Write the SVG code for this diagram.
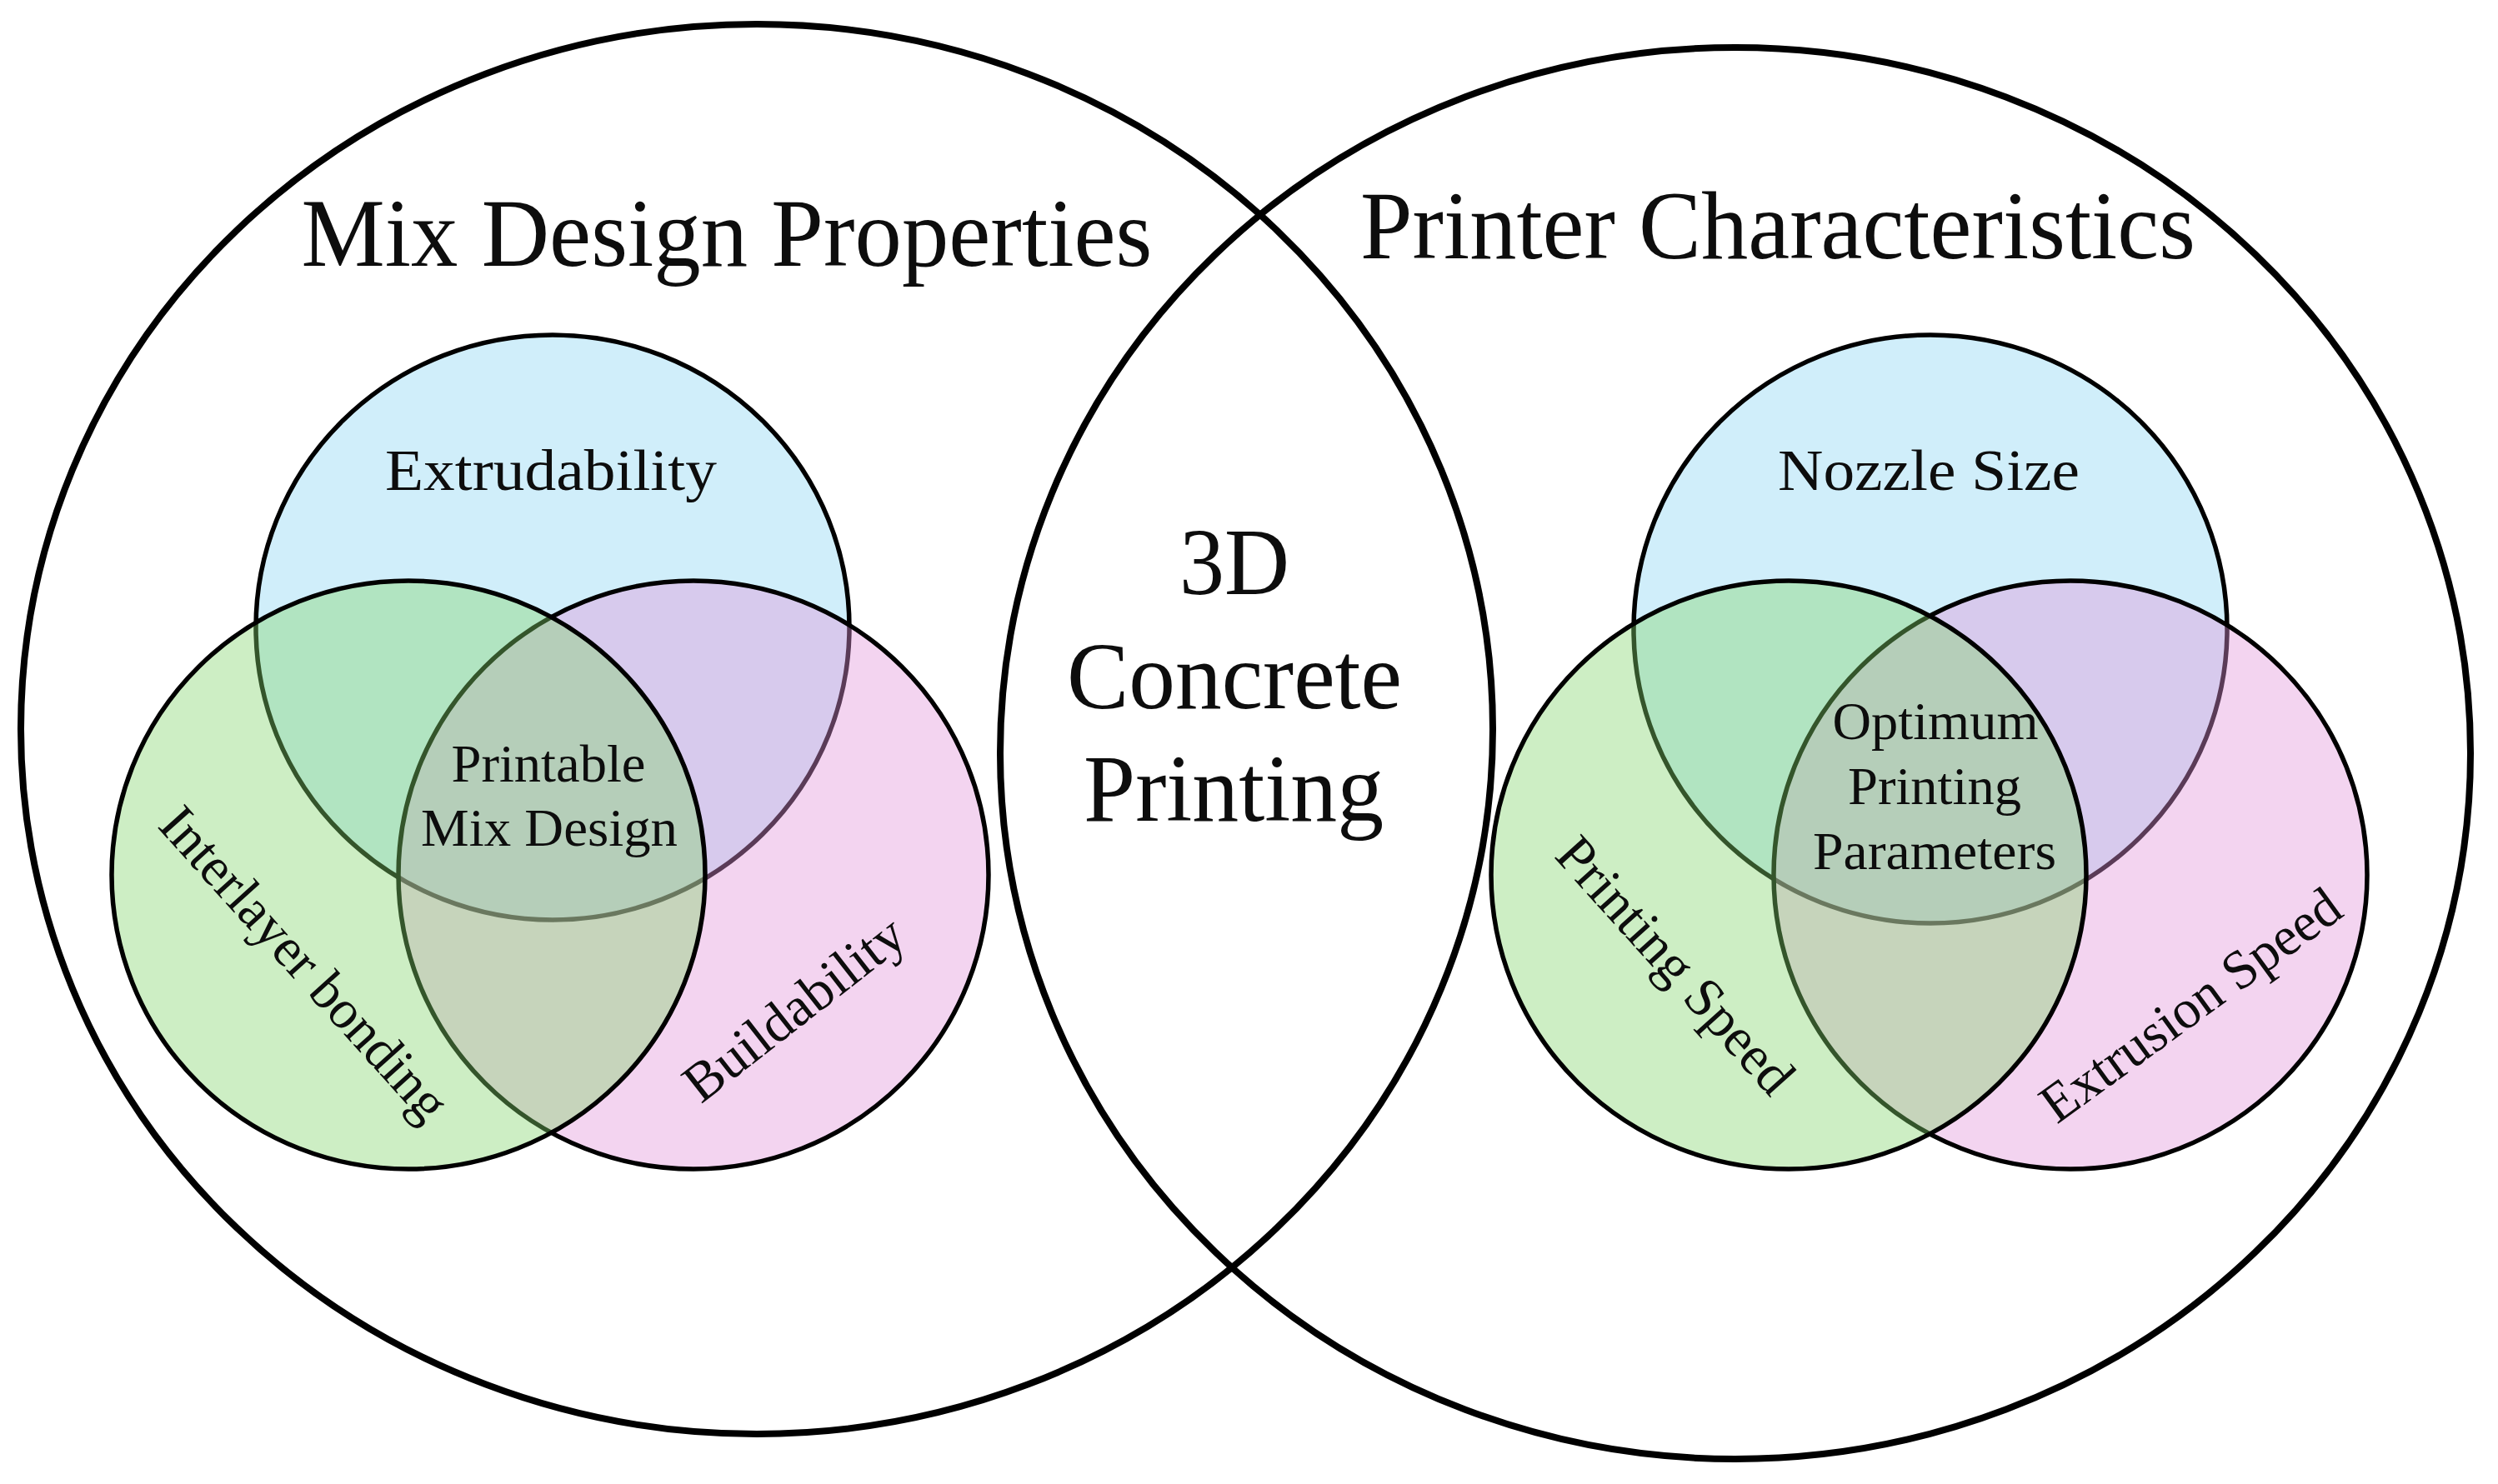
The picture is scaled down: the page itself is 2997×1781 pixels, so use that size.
<svg xmlns="http://www.w3.org/2000/svg" width="2997" height="1781" viewBox="0 0 2997 1781">
<style>
.big{fill:none;stroke:#000;stroke-width:8}
.blue{fill:#d0eefa;stroke:#000;stroke-width:5.5}
.pink{fill:rgb(225,148,218);fill-opacity:0.4;stroke:#000;stroke-width:5.5}
.green{fill:rgb(130,212,108);fill-opacity:0.4;stroke:#000;stroke-width:5.5}
text{font-family:"Liberation Serif","Times New Roman",serif;fill:#0d0d0d;text-anchor:middle}
.title{font-size:116px}
.mid{font-size:115px}
.lab{font-size:70px}
.sm{font-size:64px}
.rot{font-size:66px}
</style>
<rect width="2997" height="1781" fill="#fff"/>
<g id="mix-design-properties">
<ellipse class="big" cx="908" cy="875" rx="883" ry="846"/>
<text class="title" x="872" y="319" textLength="1021" lengthAdjust="spacingAndGlyphs">Mix Design Properties</text>
</g>
<g id="printer-characteristics">
<ellipse class="big" cx="2082" cy="904" rx="882" ry="847"/>
<text class="title" x="2133" y="310" textLength="1002" lengthAdjust="spacingAndGlyphs">Printer Characteristics</text>
</g>
<g id="concrete-printing">
<text class="mid" x="1481" y="713" textLength="132" lengthAdjust="spacingAndGlyphs">3D</text>
<text class="mid" x="1481" y="850" textLength="402" lengthAdjust="spacingAndGlyphs">Concrete</text>
<text class="mid" x="1480" y="985" textLength="360" lengthAdjust="spacingAndGlyphs">Printing</text>
</g>
<g id="extrudability">
<ellipse class="blue" cx="663" cy="753" rx="356" ry="351"/>
</g>
<g id="buildability">
<ellipse class="pink" cx="832" cy="1050" rx="354" ry="353"/>
</g>
<g id="interlayer-bonding">
<ellipse class="green" cx="490" cy="1050" rx="356" ry="353"/>
</g>
<g id="nozzle-size">
<ellipse class="blue" cx="2316" cy="755" rx="356" ry="353"/>
</g>
<g id="extrusion-speed">
<ellipse class="pink" cx="2484" cy="1050" rx="356" ry="353"/>
</g>
<g id="printing-speed">
<ellipse class="green" cx="2146" cy="1050" rx="357" ry="353"/>
</g>
<g id="labels-left">
<text class="lab" x="661" y="588" textLength="398" lengthAdjust="spacingAndGlyphs">Extrudability</text>
<text class="rot" transform="translate(349 1171) rotate(48)" textLength="482" lengthAdjust="spacingAndGlyphs">Interlayer bonding</text>
<text class="rot" transform="translate(966 1228) rotate(-38)" textLength="317" lengthAdjust="spacingAndGlyphs">Buildability</text>
</g>
<g id="printable-mix-design">
<text class="sm" x="658" y="938" textLength="233" lengthAdjust="spacingAndGlyphs">Printable</text>
<text class="sm" x="659" y="1015" textLength="308" lengthAdjust="spacingAndGlyphs">Mix Design</text>
</g>
<g id="labels-right">
<text class="lab" x="2314" y="588" textLength="362" lengthAdjust="spacingAndGlyphs">Nozzle Size</text>
<text class="rot" transform="translate(1994 1173) rotate(48)" textLength="390" lengthAdjust="spacingAndGlyphs">Printing Speed</text>
<text class="rot" transform="translate(2641 1224) rotate(-36)" textLength="428" lengthAdjust="spacingAndGlyphs">Extrusion Speed</text>
</g>
<g id="optimum-printing-parameters">
<text class="sm" x="2322" y="887" textLength="247" lengthAdjust="spacingAndGlyphs">Optimum</text>
<text class="sm" x="2321" y="965" textLength="208" lengthAdjust="spacingAndGlyphs">Printing</text>
<text class="sm" x="2321" y="1043" textLength="292" lengthAdjust="spacingAndGlyphs">Parameters</text>
</g>
</svg>
